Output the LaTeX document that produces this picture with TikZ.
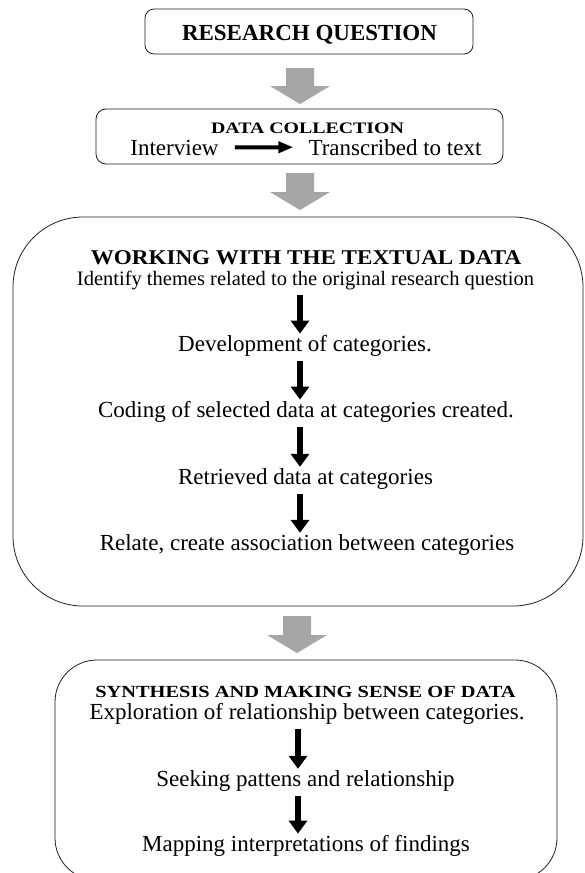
\documentclass[tikz,border=0pt]{standalone}
\usepackage{fontspec}
\setmainfont{Liberation Serif}
\usepackage{graphicx}
\usetikzlibrary{arrows.meta}
\definecolor{arrgray}{RGB}{166,166,166}
\definecolor{edgecol}{RGB}{30,30,30}
\newcommand\bodyfont{\fontsize{23}{26}\selectfont}
\newcommand\garrow[4]{% center x, top y, shaft end y, tip y
  \fill[arrgray] (#1-14,#2) -- (#1+14,#2) -- (#1+14,#3) -- (#1+30,#3) -- (#1,#4) -- (#1-30,#3) -- (#1-14,#3) -- cycle;}
\tikzset{
  x=1pt, y=-1pt,
  txt/.style={inner sep=0pt, anchor=base, font=\bodyfont},
  boxnode/.style={draw=edgecol, line width=0.8pt, inner sep=0pt, fill=white},
  blk/.style={line width=6.5pt, -{Triangle[width=18pt,length=13pt]}, shorten <=5pt, shorten >=1pt},
  thinarrow/.style={line width=4pt, -{Triangle[width=11pt,length=15pt]}, shorten <=16pt, shorten >=15pt},
}
\begin{document}
\begin{tikzpicture}
\useasboundingbox (0,0) rectangle (585,873);
\clip (0,0) rectangle (585,873);
% boxes
\node[boxnode, rounded corners=9pt, minimum width=328pt, minimum height=45pt] (b1) at (309,31.5) {};
\node[boxnode, rounded corners=10pt, minimum width=407pt, minimum height=55pt] (b2) at (299.5,136.5) {};
\node[boxnode, rounded corners=70pt, minimum width=570pt, minimum height=389pt] (b3) at (298,411.5) {};
\node[boxnode, rounded corners=42pt, minimum width=502pt, minimum height=220pt] (b4) at (306,770) {};
% gray block arrows
\garrow{300}{68}{86}{104}
\garrow{300}{173}{192}{210}
\garrow{297}{616}{635}{653}
% box 1
\node[txt] (rq) at (309.5,40) {\fontsize{23}{26}\selectfont\bfseries RESEARCH QUESTION};
% box 2
\node[txt] (dc) at (307.5,133) {\scalebox{1.24}[1]{\fontsize{16}{18}\selectfont\bfseries DATA COLLECTION}};
\node[txt] (iv) at (174.5,155) {Interview};
\node[txt] (tt) at (395,155) {Transcribed to text};
\draw[thinarrow] (iv.east) -- (tt.west);
% box 3
\coordinate (a3) at (300,0);
\node[txt] (w0) at (306,264) {\scalebox{1.1}[1]{\fontsize{21}{24}\selectfont\bfseries WORKING WITH THE TEXTUAL DATA}};
\node[txt, font=\fontsize{20.5}{24}\selectfont] (w1) at (305.5,285) {Identify themes related to the original research question};
\node[txt] (w2) at (305,351) {Development of categories.};
\node[txt] (w3) at (306,417) {Coding of selected data at categories created.};
\node[txt] (w4) at (305.5,484) {Retrieved data at categories};
\node[txt] (w5) at (307,550) {Relate, create association between categories};
\draw[blk] (w1.south -| a3) -- (w2.north -| a3);
\draw[blk] (w2.south -| a3) -- (w3.north -| a3);
\draw[blk] (w3.south -| a3) -- (w4.north -| a3);
\draw[blk] (w4.south -| a3) -- (w5.north -| a3);
% box 4
\coordinate (a4) at (298,0);
\node[txt] (s0) at (305.5,697) {\scalebox{1.2}[1]{\fontsize{17}{20}\selectfont\bfseries SYNTHESIS AND MAKING SENSE OF DATA}};
\node[txt] (s1) at (307,719) {Exploration of relationship between categories.};
\node[txt] (s2) at (305.5,786) {Seeking pattens and relationship};
\node[txt] (s3) at (306,851) {Mapping interpretations of findings};
\draw[blk] (s1.south -| a4) -- (s2.north -| a4);
\draw[blk] (s2.south -| a4) -- (s3.north -| a4);
\end{tikzpicture}
\end{document}
